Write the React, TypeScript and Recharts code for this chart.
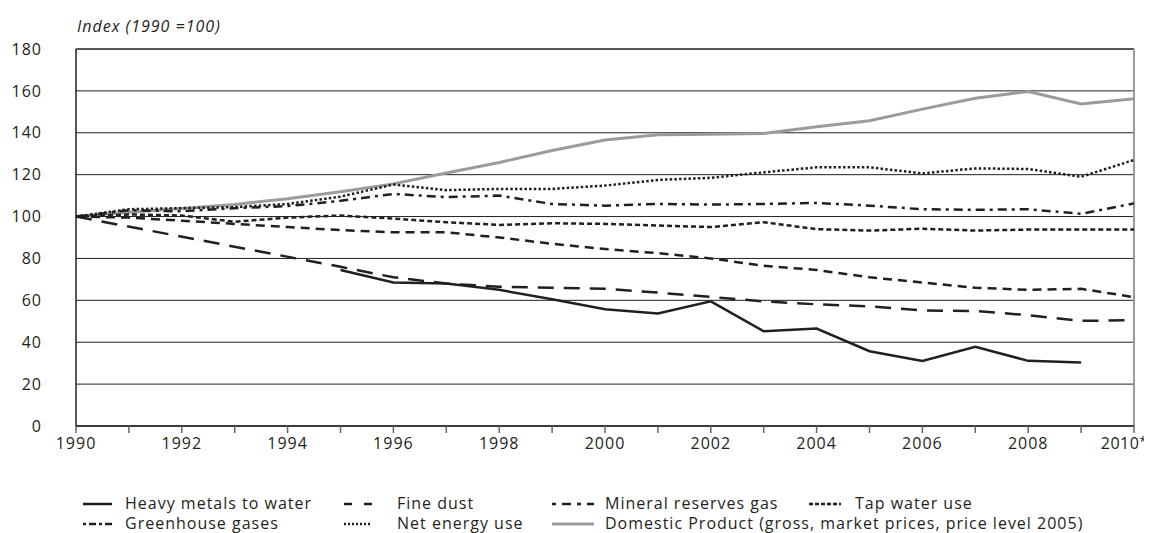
import { LineChart, Line, XAxis, YAxis, CartesianGrid, ReferenceLine } from "recharts";

const years = [
  1990, 1991, 1992, 1993, 1994, 1995, 1996, 1997, 1998, 1999, 2000,
  2001, 2002, 2003, 2004, 2005, 2006, 2007, 2008, 2009, 2010,
];
const labelledYears = [1990, 1992, 1994, 1996, 1998, 2000, 2002, 2004, 2006, 2008, 2010];
const yTicks = [0, 20, 40, 60, 80, 100, 120, 140, 160, 180];

const heavyMetals = [null, null, null, null, null, 74.5, 68.5, 68, 65, 60.5, 55.7, 53.7, 59.5, 45.2, 46.5, 35.7, 31.1, 37.8, 31.1, 30.3, null];
const fineDust = [100, null, null, null, null, 76, 71, 68, 66.5, 66, 65.5, 63.7, 61.6, 59.5, 58.1, 57.1, 55.2, 54.9, 52.9, 50.2, 50.5];
const mineralGas = [100, 99.5, 98, 96.5, 95, 93.5, 92.5, 92.5, 90, 87, 84.5, 82.5, 80, 76.5, 74.5, 71, 68.5, 66, 65, 65.5, 61.5];
const tapWater = [100, 101, 100.5, 97.5, 99.5, 100.5, 99, 97.3, 96, 96.8, 96.5, 95.7, 95, 97.3, 94, 93.3, 94.2, 93.3, 93.8, 93.8, 93.8];
const greenhouse = [100, 103, 102.5, 104, 105, 107.5, 110.8, 109.3, 110, 106, 105.2, 106, 105.7, 106, 106.5, 105.2, 103.5, 103.2, 103.5, 101.3, 106.3];
const netEnergy = [100, 103.5, 104, 104.5, 106, 109.5, 115.3, 112.6, 113.2, 113.2, 114.8, 117.5, 118.5, 121.1, 123.5, 123.5, 120.6, 123, 122.7, 119, 127];
const gdp = [100, 102, 103.8, 105.8, 108.5, 111.8, 115.6, 120.8, 125.8, 131.5, 136.5, 139, 139.3, 139.7, 142.9, 145.7, 151.3, 156.5, 159.7, 153.7, 156.3];

const data = years.map((year, i) => ({
  year,
  heavyMetals: heavyMetals[i],
  fineDust: fineDust[i],
  mineralGas: mineralGas[i],
  tapWater: tapWater[i],
  greenhouse: greenhouse[i],
  netEnergy: netEnergy[i],
  gdp: gdp[i],
}));

const FONT = "'Open Sans', sans-serif";
const INK = "#231f20";
const SPACING = 1;

type Series = {
  key: string;
  name: string;
  color: string;
  width: number;
  dash?: string;
  legendDash?: string;
};

const series: Series[] = [
  { key: "gdp", name: "Domestic Product (gross, market prices, price level 2005)", color: "#9b9b9b", width: 3 },
  { key: "heavyMetals", name: "Heavy metals to water", color: INK, width: 2.5 },
  { key: "fineDust", name: "Fine dust", color: INK, width: 2.5, dash: "16 10", legendDash: "8 12" },
  { key: "mineralGas", name: "Mineral reserves gas", color: INK, width: 2.5, dash: "9 6", legendDash: "4 6 9 6" },
  { key: "tapWater", name: "Tap water use", color: INK, width: 2.5, dash: "5 3", legendDash: "4 2" },
  { key: "greenhouse", name: "Greenhouse gases", color: INK, width: 2.5, dash: "9 5 3 5", legendDash: "3 3 7 3" },
  { key: "netEnergy", name: "Net energy use", color: INK, width: 2.5, dash: "2.5 2.2", legendDash: "2 2" },
];

// legend: two rows, four columns (sample start, sample length, text start)
const legendRows = [
  ["heavyMetals", "fineDust", "mineralGas", "tapWater"],
  ["greenhouse", "netEnergy", "gdp"],
];
const legendCols = [
  { x: 75, len: 29, text: 117 },
  { x: 336, len: 28, text: 389 },
  { x: 544, len: 42, text: 597 },
  { x: 801, len: 32, text: 847 },
];

function LegendBlock() {
  return (
    <div style={{ position: "absolute", left: 0, top: 485, width: 1144, fontFamily: FONT, fontSize: 16, letterSpacing: SPACING, color: INK, lineHeight: "20px" }}>
      {legendRows.map((row, r) => (
        <div key={r} style={{ position: "relative", height: 20 }}>
          {row.map((k, c) => {
            const s = series.find((x) => x.key === k)!;
            const col = legendCols[c];
            return (
              <div key={k}>
                <svg width={col.len} height={10} style={{ position: "absolute", left: col.x, top: 6 }}>
                  <line x1={0} y1={5} x2={col.len} y2={5} stroke={s.color} strokeWidth={s.width} strokeDasharray={s.legendDash} />
                </svg>
                <span style={{ position: "absolute", left: col.text, top: 0, whiteSpace: "nowrap" }}>{s.name}</span>
              </div>
            );
          })}
        </div>
      ))}
    </div>
  );
}

function YearTick(props: any) {
  const { x, y, payload } = props;
  const v = payload.value as number;
  if (!labelledYears.includes(v)) return null;
  const last = v === 2010;
  return (
    <text x={last ? x + 13 : x} y={y} dy="0.85em" textAnchor={last ? "end" : "middle"} fontFamily={FONT} fontSize={16} letterSpacing={last ? 0.5 : SPACING} fill={INK}>
      {v}
      {last ? <tspan fontSize={13} dy={-3}>*</tspan> : null}
    </text>
  );
}

export default function App() {
  return (
    <div style={{ position: "relative", width: 1144, height: 525, background: "#fff", overflow: "hidden" }}>
      <div style={{ position: "absolute", left: 69, top: 7, fontFamily: FONT, fontSize: 16, letterSpacing: SPACING, fontStyle: "italic", color: INK }}>
        Index (1990 =100)
      </div>
      <LineChart width={1144} height={470} data={data} margin={{ top: 41, right: 18, left: 0, bottom: 22 }}>
        <CartesianGrid vertical={false} stroke={INK} strokeWidth={1} />
        <XAxis
          dataKey="year"
          type="number"
          domain={[1990, 2010]}
          ticks={years}
          interval={0}
          height={30}
          tickSize={7}
          tickMargin={2}
          axisLine={{ stroke: INK, strokeWidth: 1.5 }}
          tickLine={{ stroke: "#666", strokeWidth: 1.5 }}
          tick={<YearTick />}
        />
        <YAxis
          domain={[0, 180]}
          ticks={yTicks}
          interval={0}
          width={68}
          tickSize={0}
          tickLine={false}
          tickMargin={34}
          axisLine={{ stroke: INK, strokeWidth: 1.5 }}
          tick={{ fontFamily: FONT, fontSize: 16, fill: INK, letterSpacing: SPACING }}
        />
        <ReferenceLine y={180} stroke={INK} strokeWidth={1} />
        <ReferenceLine x={2010} stroke="#9b9b9b" strokeWidth={2} />
        {series.map((s) => (
          <Line
            key={s.key}
            dataKey={s.key}
            name={s.name}
            type="linear"
            stroke={s.color}
            strokeWidth={s.width}
            strokeDasharray={s.dash}
            dot={false}
            activeDot={false}
            connectNulls={s.key === "fineDust"}
            isAnimationActive={false}
          />
        ))}
      </LineChart>
      <LegendBlock />
    </div>
  );
}
